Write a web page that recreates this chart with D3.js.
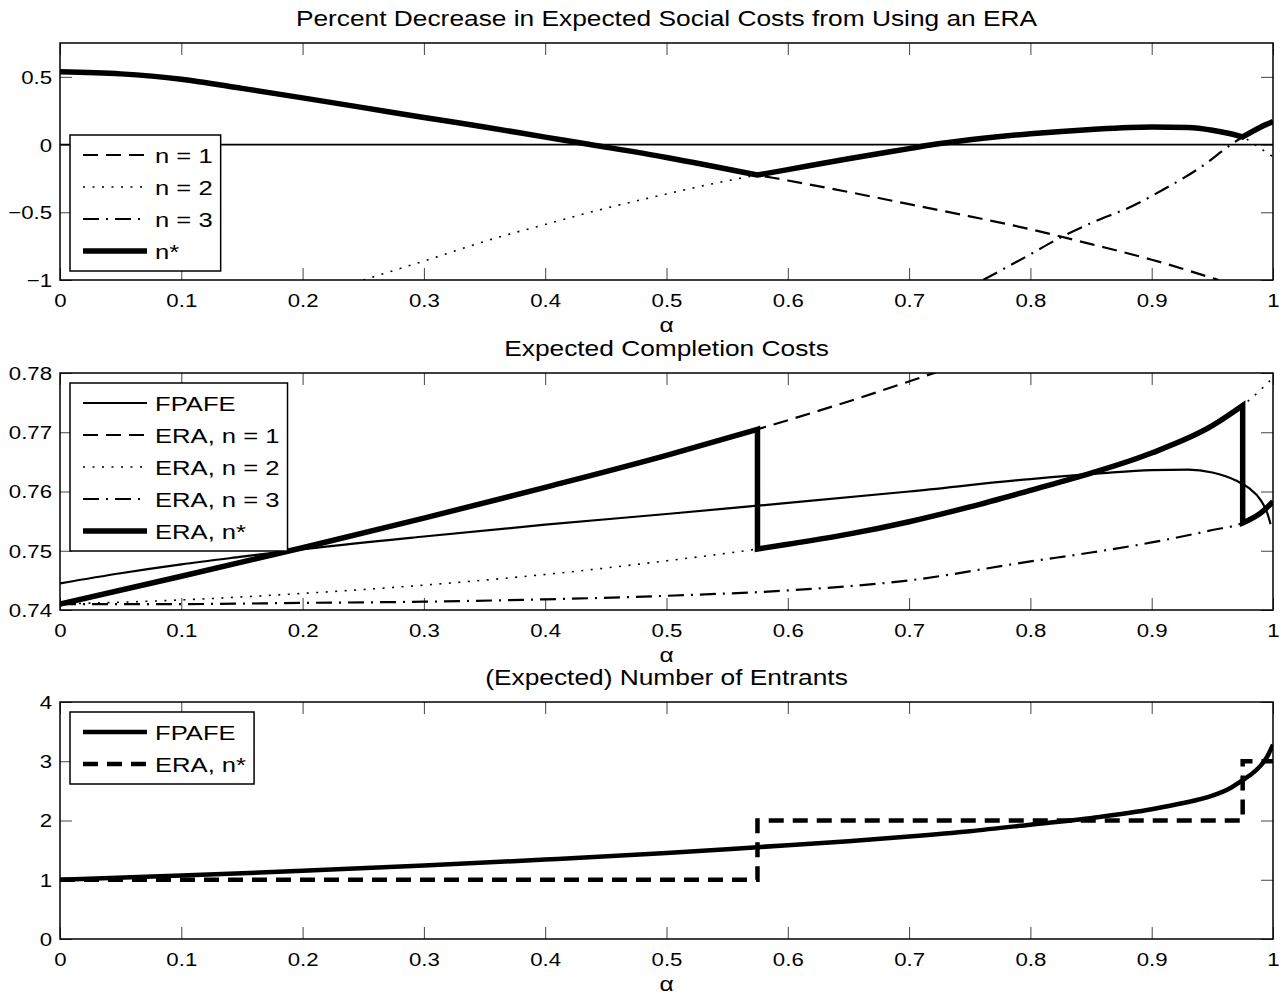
<!DOCTYPE html>
<html>
<head>
<meta charset="utf-8">
<script src="https://cdn.jsdelivr.net/npm/d3@7"></script>
<style>
body{margin:0;background:#fff;}
svg text{font-family:"Liberation Sans",Arial,Helvetica,sans-serif;fill:#000;}
</style>
</head>
<body>
<svg id="fig" width="1284" height="998"></svg>
<script>
// ---- data ----
// x ticks shared by all 3 panels
var xTickVals = [0, 0.1, 0.2, 0.3, 0.4, 0.5, 0.6, 0.7, 0.8, 0.9, 1];
var xTickLabels = ['0', '0.1', '0.2', '0.3', '0.4', '0.5', '0.6', '0.7', '0.8', '0.9', '1'];

// panel 1 - percent decrease in social costs
var topTickVals = [-1, -0.5, 0, 0.5];
var topTickLabels = ['\u22121', '\u22120.5', '0', '0.5'];
var top_n1_a = [0, 0.05, 0.1, 0.15, 0.2, 0.25, 0.3, 0.35, 0.4, 0.437, 0.5, 0.575, 0.6, 0.65, 0.7, 0.75, 0.8, 0.85, 0.9, 0.955];
var top_n1_v = [0.538, 0.522, 0.482, 0.415, 0.345, 0.273, 0.20, 0.13, 0.055, 0.0, -0.095, -0.225, -0.265, -0.35, -0.44, -0.53, -0.625, -0.735, -0.85, -1.0];
var top_n2_a = [0.25, 0.3, 0.363, 0.4, 0.45, 0.5, 0.522, 0.575, 0.6, 0.65, 0.7, 0.72, 0.75, 0.8, 0.85, 0.9, 0.93, 0.95, 0.965, 0.975, 0.985, 0.995, 1.0];
var top_n2_v = [-1.0, -0.86, -0.68, -0.59, -0.47, -0.365, -0.32, -0.225, -0.185, -0.105, -0.03, 0.0, 0.035, 0.08, 0.112, 0.13, 0.126, 0.106, 0.08, 0.056, 0.0, -0.06, -0.09];
var top_n3_a = [0.761, 0.8, 0.824, 0.85, 0.885, 0.91, 0.94, 0.967, 0.975, 0.99, 1.0];
var top_n3_v = [-1.0, -0.81, -0.69, -0.58, -0.45, -0.33, -0.17, 0.01, 0.056, 0.13, 0.17];
// n* : a repeated alpha marks a kink / jump
var top_ns_a = [0, 0.05, 0.1, 0.15, 0.2, 0.25, 0.3, 0.35, 0.4, 0.437, 0.5, 0.575, 0.575, 0.6, 0.65, 0.7, 0.72, 0.75, 0.8, 0.85, 0.9, 0.93, 0.95, 0.965, 0.975, 0.975, 0.99, 1.0];
var top_ns_v = [0.538, 0.522, 0.482, 0.415, 0.345, 0.273, 0.20, 0.13, 0.055, 0.0, -0.095, -0.225, -0.225, -0.185, -0.105, -0.03, 0.0, 0.035, 0.08, 0.112, 0.13, 0.126, 0.106, 0.08, 0.056, 0.056, 0.13, 0.17];

// panel 2 - expected completion costs
var midTickVals = [0.74, 0.75, 0.76, 0.77, 0.78];
var midTickLabels = ['0.74', '0.75', '0.76', '0.77', '0.78'];
var mid_fp_a = [0, 0.05, 0.1, 0.15, 0.19, 0.3, 0.4, 0.5, 0.575, 0.7, 0.8, 0.86, 0.9, 0.93, 0.95, 0.97, 0.98, 0.99, 0.995, 0.998];
var mid_fp_v = [0.7445, 0.7462, 0.7477, 0.7490, 0.7500, 0.7524, 0.7544, 0.7562, 0.7576, 0.7600, 0.7621, 0.7631, 0.7636, 0.7637, 0.7632, 0.7618, 0.7606, 0.7585, 0.7565, 0.7545];
var mid_n1_a = [0, 0.1, 0.2, 0.3, 0.4, 0.5, 0.575, 0.65, 0.722];
var mid_n1_v = [0.7410, 0.7457, 0.7505, 0.7555, 0.7607, 0.7661, 0.7705, 0.7752, 0.7801];
var mid_n2_a = [0, 0.1, 0.2, 0.3, 0.4, 0.5, 0.575, 0.6, 0.65, 0.7, 0.75, 0.8, 0.85, 0.9, 0.95, 0.975, 1.0];
var mid_n2_v = [0.7410, 0.7417, 0.7428, 0.7442, 0.7460, 0.7483, 0.7503, 0.7511, 0.7528, 0.7549, 0.7574, 0.7602, 0.7631, 0.7665, 0.7711, 0.7745, 0.7792];
var mid_n3_a = [0, 0.1, 0.2, 0.3, 0.4, 0.5, 0.6, 0.7, 0.8, 0.85, 0.9, 0.95, 0.975, 0.99, 1.0];
var mid_n3_v = [0.7410, 0.7410, 0.7412, 0.7414, 0.7418, 0.7424, 0.7433, 0.7450, 0.7482, 0.7497, 0.7514, 0.7535, 0.7547, 0.7564, 0.7583];
var mid_ns_a = [0, 0.1, 0.2, 0.3, 0.4, 0.5, 0.575, 0.575, 0.6, 0.65, 0.7, 0.75, 0.8, 0.85, 0.9, 0.95, 0.975, 0.975, 0.99, 1.0];
var mid_ns_v = [0.7410, 0.7457, 0.7505, 0.7555, 0.7607, 0.7661, 0.7705, 0.7503, 0.7511, 0.7528, 0.7549, 0.7574, 0.7602, 0.7631, 0.7665, 0.7711, 0.7745, 0.7547, 0.7564, 0.7583];

// panel 3 - number of entrants
var botTickVals = [0, 1, 2, 3, 4];
var botTickLabels = ['0', '1', '2', '3', '4'];
var bot_fp_a = [0, 0.1, 0.2, 0.3, 0.4, 0.5, 0.575, 0.65, 0.7, 0.75, 0.8, 0.857, 0.9, 0.925, 0.95, 0.965, 0.975, 0.985, 0.99, 0.995, 1.0];
var bot_fp_v = [1.0, 1.07, 1.15, 1.24, 1.34, 1.45, 1.55, 1.65, 1.73, 1.82, 1.93, 2.06, 2.19, 2.29, 2.42, 2.55, 2.68, 2.83, 2.93, 3.07, 3.28];
var bot_ns_a = [0, 0.575, 0.975, 1.0];   // step after
var bot_ns_v = [1, 2, 3, 3];

// ---- layout ----
var axL = 60, axR = 1273, axH = 237;
var axTops = [43, 373, 702];
var TXT_SX = 1.17;   // the original lettering is a bit wide
var LEG_SX = 1.22;

var DASHED = '15,8', DOTTED = '2,7.5', DASHDOT = '16,7,2,7';

var svg = d3.select('#fig');
var x = d3.scaleLinear().domain([0, 1]).range([axL, axR]);

function txt(g, x0, y0, s, size, anchor, sx) {
    return g.append('text')
        .attr('transform', 'translate(' + x0 + ',' + y0 + ') scale(' + (sx || TXT_SX) + ',1)')
        .attr('text-anchor', anchor || 'start')
        .style('font-size', size + 'px')
        .text(s);
}

// split where alpha repeats, then join the pieces so the jumps are vertical
function pathFor(a, v, y, curve) {
    var line = d3.line()
        .x(function(d) { return x(d[0]); })
        .y(function(d) { return y(d[1]); })
        .curve(curve || d3.curveMonotoneX);
    var runs = [[]];
    for (var i = 0; i < a.length; i++) {
        if (i > 0 && a[i] === a[i - 1]) runs.push([]);
        runs[runs.length - 1].push([a[i], v[i]]);
    }
    return runs.map(function(r, i) {
        var p = line(r);
        return i ? p.replace(/^M/, 'L') : p;
    }).join('');
}

function panel(i, yDomain, yTicks, yLabels, title, series, legendPos) {
    var top = axTops[i], bottom = top + axH;
    var y = d3.scaleLinear().domain(yDomain).range([bottom, top]);
    var g = svg.append('g');

    g.append('clipPath').attr('id', 'clip' + i)
        .append('rect').attr('x', axL).attr('y', top).attr('width', axR - axL).attr('height', axH);

    // axes (ticks point inwards, on all four sides)
    var xb = g.append('g').attr('transform', 'translate(0,' + bottom + ')')
        .call(d3.axisBottom(x).tickValues(xTickVals).tickSizeInner(-12).tickSizeOuter(0).tickPadding(14)
            .tickFormat(function(d, k) { return xTickLabels[k]; }));
    var xt = g.append('g').attr('transform', 'translate(0,' + top + ')')
        .call(d3.axisTop(x).tickValues(xTickVals).tickSizeInner(-12).tickSizeOuter(0).tickFormat(''));
    var yl = g.append('g').attr('transform', 'translate(' + axL + ',0)')
        .call(d3.axisLeft(y).tickValues(yTicks).tickSizeInner(-12).tickSizeOuter(0)
            .tickFormat(function(d, k) { return yLabels[k]; }));
    var yr = g.append('g').attr('transform', 'translate(' + axR + ',0)')
        .call(d3.axisRight(y).tickValues(yTicks).tickSizeInner(-12).tickSizeOuter(0).tickFormat(''));
    [xb, xt, yl, yr].forEach(function(ax) {
        ax.select('.domain').remove();
        ax.selectAll('.tick line').attr('stroke', '#444').attr('stroke-width', 1);
        ax.attr('font-family', null).attr('font-size', null);
    });
    xb.selectAll('.tick text').style('font-size', '19px')
        .attr('transform', 'scale(' + TXT_SX + ',1)');
    yl.selectAll('.tick text').style('font-size', '19px')
        .attr('x', null).attr('dy', '0.34em')
        .attr('transform', 'translate(-8,0) scale(' + TXT_SX + ',1)');

    var plot = g.append('g').attr('clip-path', 'url(#clip' + i + ')');
    series.forEach(function(s) {
        plot.append('path')
            .attr('d', s.a ? pathFor(s.a, s.v, y, s.curve) : 'M' + axL + ',' + y(0) + 'H' + axR)
            .attr('fill', 'none')
            .attr('stroke', '#000')
            .attr('stroke-width', s.w)
            .attr('stroke-dasharray', s.dash)
            .attr('stroke-linejoin', 'miter');
    });

    // box
    g.append('rect').attr('x', axL).attr('y', top).attr('width', axR - axL).attr('height', axH)
        .attr('fill', 'none').attr('stroke', '#000').attr('stroke-width', 1.5);

    // legend
    var items = series.filter(function(s) { return s.label; });
    var lh = 40 + (items.length - 1) * 32;
    var ly = legendPos === 'sw' ? bottom - 9 - lh : top + 10;
    var lg = g.append('g');
    var box = lg.append('rect').attr('x', 70).attr('y', ly).attr('height', lh)
        .attr('fill', '#fff').attr('stroke', '#000').attr('stroke-width', 1.5);
    var maxW = 0;
    items.forEach(function(s, k) {
        var ry = ly + 20 + k * 32;
        lg.append('line').attr('x1', 83).attr('x2', 147).attr('y1', ry).attr('y2', ry)
            .attr('stroke', '#000').attr('stroke-width', s.w).attr('stroke-dasharray', s.dash);
        var t = txt(lg, 155, ry, s.label, 21, 'start', LEG_SX).attr('dy', '0.36em');
        maxW = Math.max(maxW, t.node().getBBox().width * LEG_SX);
    });
    box.attr('width', 155 + maxW + 8 - 70);

    txt(g, (axL + axR) / 2, top - 17, title, 22.5, 'middle');
    txt(g, (axL + axR) / 2, bottom + 52, '\u03b1', 21, 'middle');
}

panel(0, [-1, 0.75], topTickVals, topTickLabels,
    'Percent Decrease in Expected Social Costs from Using an ERA', [
        {w: 1.8},   // zero line
        {a: top_n1_a, v: top_n1_v, w: 2.2, dash: DASHED, label: 'n = 1'},
        {a: top_n2_a, v: top_n2_v, w: 1.6, dash: DOTTED, label: 'n = 2'},
        {a: top_n3_a, v: top_n3_v, w: 2.2, dash: DASHDOT, label: 'n = 3'},
        {a: top_ns_a, v: top_ns_v, w: 5.5, label: 'n*'}
    ], 'sw');

panel(1, [0.74, 0.78], midTickVals, midTickLabels,
    'Expected Completion Costs', [
        {a: mid_fp_a, v: mid_fp_v, w: 2.2, label: 'FPAFE'},
        {a: mid_n1_a, v: mid_n1_v, w: 2.2, dash: DASHED, label: 'ERA, n = 1'},
        {a: mid_n2_a, v: mid_n2_v, w: 1.6, dash: DOTTED, label: 'ERA, n = 2'},
        {a: mid_n3_a, v: mid_n3_v, w: 2.2, dash: DASHDOT, label: 'ERA, n = 3'},
        {a: mid_ns_a, v: mid_ns_v, w: 5.5, label: 'ERA, n*'}
    ], 'nw');

panel(2, [0, 4], botTickVals, botTickLabels,
    '(Expected) Number of Entrants', [
        {a: bot_fp_a, v: bot_fp_v, w: 4.5, label: 'FPAFE'},
        {a: bot_ns_a, v: bot_ns_v, w: 4.5, dash: '15,9', curve: d3.curveStepAfter, label: 'ERA, n*'}
    ], 'nw');
</script>
</body>
</html>
